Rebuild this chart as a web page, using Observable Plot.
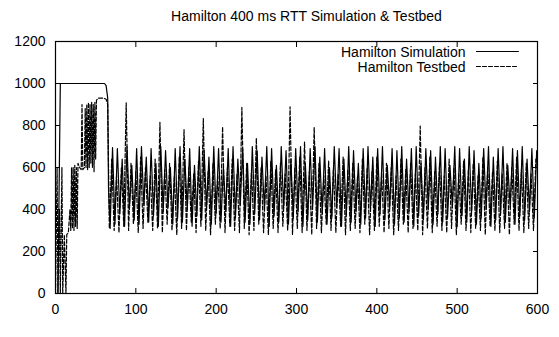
<!DOCTYPE html>
<html><head><meta charset="utf-8">
<script src="https://cdn.jsdelivr.net/npm/d3@7"></script>
<script src="https://cdn.jsdelivr.net/npm/@observablehq/plot@0.6"></script>
<style>body{margin:0;background:#fff}</style>
</head><body><div id="chart"></div>
<script>
const titleText = "Hamilton 400 ms RTT Simulation & Testbed";
const seriesNames = ["Hamilton Simulation", "Hamilton Testbed"];
const xTicks = [0, 100, 200, 300, 400, 500, 600];
const yTicks = [0, 200, 400, 600, 800, 1000, 1200];

// Simulation: start-up phase
const simRampT = [3, 6, 61, 63, 65, 66];
const simRampV = [0, 1000, 1000, 990, 930, 500];
// Simulation: oscillation (trough, peak, trough, peak ...)
const simT = [
  68,71,74,77,80,83,86,89,92,95,
  98,101,104,107,110,113,116,119,122,125,
  128,131,134,137,140,143,146,149,152,155,
  158,161,164,167,170,173,176,179,182,185,
  188,191,194,197,200,203,206,209,212,215,
  218,221,224,227,230,233,236,239,242,245,
  248,251,254,257,260,263,266,269,272,275,
  278,281,284,287,290,293,296,299,302,305,
  308,311,314,317,320,323,326,329,332,335,
  338,341,344,347,350,353,356,359,362,365,
  368,371,374,377,380,383,386,389,392,395,
  398,401,404,407,410,413,416,419,422,425,
  428,431,434,437,440,443,446,449,452,455,
  458,461,464,467,470,473,476,479,482,485,
  488,491,494,497,500,503,506,509,512,515,
  518,521,524,527,530,533,536,539,542,545,
  548,551,554,557,560,563,566,569,572,575,
  578,581,584,587,590,593,596,599];
const simV = [
  310,695, 330,690, 380,640, 320,700, 400,610,
  350,690, 330,700, 420,650, 340,690, 370,620,
  320,700, 390,680, 410,600, 330,690, 360,700,
  340,640, 400,690, 320,610, 370,700, 350,680,
  410,650, 330,700, 380,690, 340,600, 390,690,
  320,700, 360,640, 420,690, 340,620, 330,700,
  380,680, 350,650, 400,700, 320,690, 370,610,
  340,700, 410,680, 330,640, 360,690, 390,700,
  320,620, 350,690, 400,700, 340,650, 380,690,
  330,600, 360,700, 410,690, 320,640, 370,700,
  340,680, 390,620, 330,690, 360,700, 400,650,
  320,690, 380,700, 350,610, 410,690, 330,680,
  360,700, 340,640, 390,690, 320,700, 370,620,
  350,690, 400,680, 330,650, 380,700, 340,690,
  360,610, 410,700, 320,690, 370,640, 340,700,
  390,680, 330,620, 360,690, 400,700, 320,650,
  350,690, 380,700, 340,610, 410,690, 330,680,
  370,700, 350,640, 390,690, 360,680];

// Testbed: start-up phase
const tbRampT = [0,2,3,5,6,8,9,11,13,14,16,18,19,20,21,22,23,24,25,26,27,28,30,32,33,34,36,37,38,39,40,41,42,43,44,45,46,47,48,49,50,51,53,56,60,63,65];
const tbRampV = [0,600,0,400,0,600,0,280,0,280,290,400,300,600,310,600,300,610,320,600,310,620,600,590,900,590,600,880,600,900,590,910,600,900,620,910,600,900,580,910,640,920,930,930,930,925,900];
// Testbed: oscillation (trough, peak, trough, peak ...)
const tbT = [
  67,70,73,76,79,82,85,88,91,94,
  97,100,103,106,109,112,115,118,121,124,
  127,130,133,136,139,142,145,148,151,154,
  157,160,163,166,169,172,175,178,181,184,
  187,190,193,196,199,202,205,208,211,214,
  217,220,223,226,229,232,235,238,241,244,
  247,250,253,256,259,262,265,268,271,274,
  277,280,283,286,289,292,295,298,301,304,
  307,310,313,316,319,322,325,328,331,334,
  337,340,343,346,349,352,355,358,361,364,
  367,370,373,376,379,382,385,388,391,394,
  397,400,403,406,409,412,415,418,421,424,
  427,430,433,436,439,442,445,448,451,454,
  457,460,463,466,469,472,475,478,481,484,
  487,490,493,496,499,502,505,508,511,514,
  517,520,523,526,529,532,535,538,541,544,
  547,550,553,556,559,562,565,568,571,574,
  577,580,583,586,589,592,595,598];
const tbV = [
  310,640, 300,560, 290,600, 320,908, 300,620,
  330,580, 290,650, 310,600, 340,560, 300,640,
  310,815, 290,590, 330,620, 300,560, 280,650,
  310,780, 300,600, 340,570, 290,630, 320,833,
  300,580, 280,620, 330,560, 310,794, 290,600,
  320,640, 300,570, 290,886, 310,620, 280,590,
  300,740, 330,600, 290,560, 280,630, 310,590,
  290,620, 320,570, 300,889, 280,600, 310,650,
  290,722, 300,580, 280,792, 310,620, 290,560,
  330,630, 300,600, 290,570, 320,650, 280,590,
  300,620, 310,560, 290,640, 330,600, 280,580,
  300,650, 320,570, 290,620, 310,600, 280,560,
  300,640, 330,590, 290,620, 310,570, 300,797,
  280,600, 310,650, 290,580, 320,620, 300,560,
  290,640, 310,600, 280,570, 330,630, 300,590,
  290,620, 310,560, 300,650, 280,600, 320,580,
  300,630, 290,570, 310,620, 280,600, 330,650,
  300,590, 290,620, 310,570, 300,640];

const toRows = (ts, vs) => ts.map((t, i) => ({t, v: vs[i]}));
const sim = toRows(simRampT.concat(simT), simRampV.concat(simV));
const tb = toRows(tbRampT.concat(tbT), tbRampV.concat(tbV));

const font = "'Liberation Sans', Arial, Helvetica, sans-serif";
const lineShape = {draw(context, l) { context.moveTo(0, 0); context.lineTo(l, 0); }};
const fmt = d => String(d);

const chart = Plot.plot({
  width: 559,
  height: 337,
  marginLeft: 55,
  marginRight: 22,
  marginTop: 41,
  marginBottom: 44,
  style: {fontFamily: font, fontSize: "14px", background: "#fff", color: "#000"},
  x: {domain: [0, 600]},
  y: {domain: [0, 1200]},
  marks: [
    Plot.line(tb, {x: "t", y: "v", stroke: "#000", strokeWidth: 1.2, strokeDasharray: "4,2", clip: true}),
    Plot.line(sim, {x: "t", y: "v", stroke: "#000", strokeWidth: 1.2, clip: true}),
    Plot.axisX(xTicks, {anchor: "bottom", tickSize: -5, tickPadding: 16, tickFormat: fmt, label: null, fontSize: 14}),
    Plot.axisX(xTicks, {anchor: "top", tickSize: -5, tickFormat: () => "", label: null}),
    Plot.axisY(yTicks, {anchor: "left", tickSize: -5, tickPadding: 15, tickFormat: fmt, label: null, fontSize: 14}),
    Plot.axisY(yTicks, {anchor: "right", tickSize: -5, tickFormat: () => "", label: null}),
    Plot.frame({stroke: "#000", strokeWidth: 1.2}),
    Plot.text([titleText], {text: d => d, frameAnchor: "top", dx: 10, dy: -25, lineAnchor: "middle", fontSize: 14}),
    Plot.text([seriesNames[0]], {text: d => d, frameAnchor: "top-right", dx: -72, dy: 11, textAnchor: "end", lineAnchor: "middle", fontSize: 14}),
    Plot.text([seriesNames[1]], {text: d => d, frameAnchor: "top-right", dx: -72, dy: 26, textAnchor: "end", lineAnchor: "middle", fontSize: 14}),
    Plot.vector([seriesNames[0]], {frameAnchor: "top-right", dx: -61, dy: 10, length: 42, rotate: 0, anchor: "start", shape: lineShape, stroke: "#000", strokeWidth: 1}),
    Plot.vector([seriesNames[1]], {frameAnchor: "top-right", dx: -61, dy: 25, length: 42, rotate: 0, anchor: "start", shape: lineShape, stroke: "#000", strokeWidth: 1, strokeDasharray: "4,2"})
  ]
});
document.getElementById("chart").append(chart);
</script>
</body></html>
